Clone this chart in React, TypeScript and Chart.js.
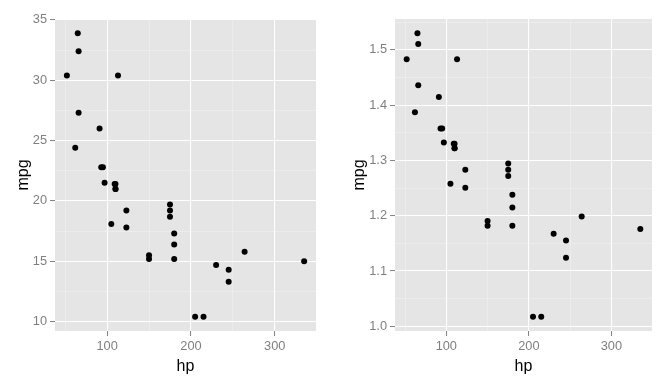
import React, { useEffect, useRef } from "react";
import { Chart, registerables } from "chart.js";

Chart.register(...registerables);

const hp = [110, 110, 93, 110, 175, 105, 245, 62, 95, 123, 123, 180, 180, 180, 205, 215, 230, 66, 52, 65, 97, 150, 150, 245, 175, 66, 91, 113, 264, 175, 335, 109];
const mpg = [21.0, 21.0, 22.8, 21.4, 18.7, 18.1, 14.3, 24.4, 22.8, 19.2, 17.8, 16.4, 17.3, 15.2, 10.4, 10.4, 14.7, 32.4, 30.4, 33.9, 21.5, 15.5, 15.2, 13.3, 19.2, 27.3, 26.0, 30.4, 15.8, 19.7, 15.0, 21.4];
const logMpg = [1.3222, 1.3222, 1.3579, 1.3304, 1.2718, 1.2577, 1.1553, 1.3874, 1.3579, 1.2833, 1.2504, 1.2148, 1.2380, 1.1818, 1.0170, 1.0170, 1.1673, 1.5105, 1.4829, 1.5302, 1.3324, 1.1903, 1.1818, 1.1239, 1.2833, 1.4362, 1.4150, 1.4829, 1.1987, 1.2945, 1.1761, 1.3304];

const xMajor = [100, 200, 300];
const xMinor = [50, 150, 250];
const xLabels = ["100", "200", "300"];
const yLeftMajor = [10, 15, 20, 25, 30, 35];
const yLeftMinor = [12.5, 17.5, 22.5, 27.5, 32.5];
const yLeftLabels = ["10", "15", "20", "25", "30", "35"];
const yRightMajor = [1.0, 1.1, 1.2, 1.3, 1.4, 1.5];
const yRightMinor = [1.05, 1.15, 1.25, 1.35, 1.45, 1.55];
const yRightLabels = ["1.0", "1.1", "1.2", "1.3", "1.4", "1.5"];

const FONT = "'Liberation Sans', Arial, sans-serif";
const GREY = "#7F7F7F";

const bgPlugin = {
  id: "panelBg",
  beforeDraw(chart: any) {
    const { ctx, chartArea } = chart;
    ctx.save();
    ctx.fillStyle = "#E5E5E5";
    ctx.fillRect(chartArea.left, chartArea.top, chartArea.right - chartArea.left, chartArea.bottom - chartArea.top);
    ctx.restore();
  },
};

function isMajor(list: number[], v: number) {
  return list.some((m) => Math.abs(m - v) < 1e-9);
}

function makeAxis(
  major: number[],
  minor: number[],
  labels: string[],
  min: number,
  max: number,
  title: string,
  horizontal: boolean,
  size: number
) {
  const all = [...major, ...minor].filter((v) => v >= min && v <= max).sort((a, b) => a - b);
  return {
    type: "linear",
    min,
    max,
    afterBuildTicks: (axis: any) => {
      axis.ticks = all.map((v) => ({ value: v }));
    },
    afterFit: (axis: any) => {
      if (horizontal) axis.height = size;
      else axis.width = size;
    },
    border: { display: false },
    grid: {
      color: (ctx: any) => (ctx.tick && isMajor(major, ctx.tick.value) ? "#FFFFFF" : "#F2F2F2"),
      lineWidth: (ctx: any) => (ctx.tick && isMajor(major, ctx.tick.value) ? 1.1 : 0.5),
      drawTicks: true,
      tickLength: 5,
      tickColor: (ctx: any) => (ctx.tick && isMajor(major, ctx.tick.value) ? GREY : "rgba(0,0,0,0)"),
      tickWidth: 1,
    },
    ticks: {
      autoSkip: false,
      maxRotation: 0,
      padding: 3,
      color: GREY,
      font: { family: FONT, size: 12.8 },
      callback: (value: any) => {
        const i = major.findIndex((m) => Math.abs(m - value) < 1e-9);
        return i >= 0 ? labels[i] : "";
      },
    },
    title: {
      display: true,
      text: title,
      color: "#000000",
      font: { family: FONT, size: 16 },
      padding: horizontal ? { top: 0, bottom: 8 } : { top: 14, bottom: 0 },
    },
  };
}

function Panel(props: {
  y: number[];
  yMajor: number[];
  yMinor: number[];
  yLabels: string[];
  yMin: number;
  yMax: number;
  yWidth: number;
}) {
  const ref = useRef<HTMLCanvasElement | null>(null);
  useEffect(() => {
    if (!ref.current) return;
    const data = hp.map((x, i) => ({ x, y: props.y[i] }));
    const chart = new Chart(ref.current, {
      type: "scatter",
      data: {
        datasets: [
          {
            data,
            backgroundColor: "#000000",
            borderWidth: 0,
            pointRadius: 3,
            pointHoverRadius: 3,
          },
        ],
      },
      options: {
        responsive: false,
        animation: false,
        events: [],
        layout: { padding: { top: 19, right: 20, bottom: 0, left: 0 } },
        plugins: { legend: { display: false }, tooltip: { enabled: false } },
        scales: {
          x: makeAxis(xMajor, xMinor, xLabels, 37.85, 349.15, "hp", true, 53) as any,
          y: makeAxis(props.yMajor, props.yMinor, props.yLabels, props.yMin, props.yMax, "mpg", false, props.yWidth) as any,
        },
      },
      plugins: [bgPlugin],
    });
    return () => chart.destroy();
  }, []);
  return <canvas ref={ref} width={336} height={384} style={{ width: 336, height: 384, display: "block" }} />;
}

export default function App() {
  return (
    <div style={{ position: "fixed", left: 0, top: 0, width: 672, height: 384, display: "flex", background: "#FFFFFF" }}>
      <Panel y={mpg} yMajor={yLeftMajor} yMinor={yLeftMinor} yLabels={yLeftLabels} yMin={9.225} yMax={35.075} yWidth={55} />
      <Panel y={logMpg} yMajor={yRightMajor} yMinor={yRightMinor} yLabels={yRightLabels} yMin={0.9914} yMax={1.5559} yWidth={59} />
    </div>
  );
}
